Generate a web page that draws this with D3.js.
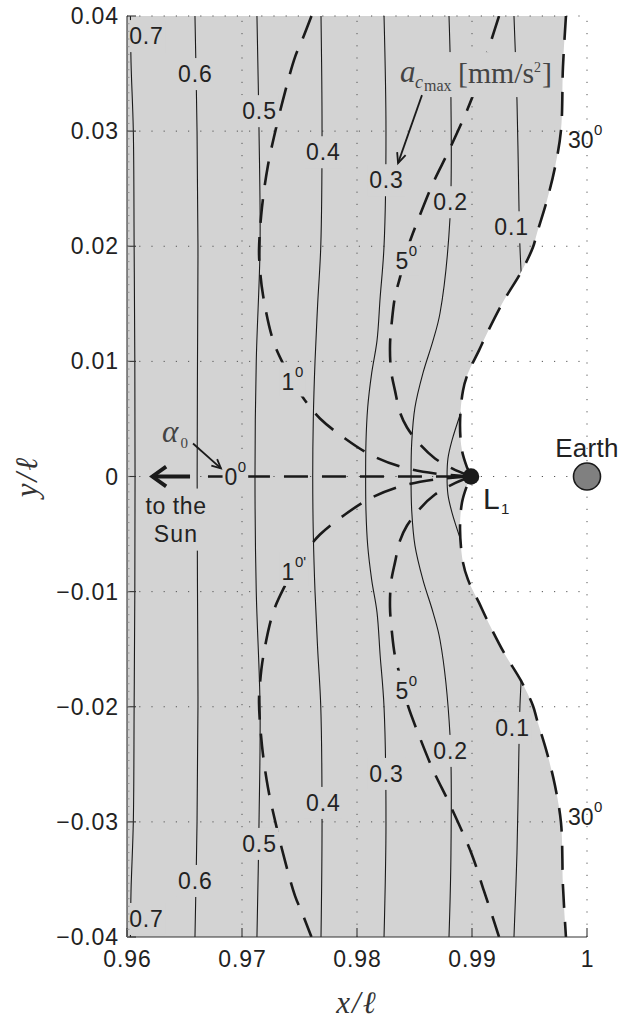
<!DOCTYPE html>
<html>
<head>
<meta charset="utf-8">
<script src="https://cdn.jsdelivr.net/npm/d3@7"></script>
<style>
body { margin: 0; background: #fff; }
text { font-family: "Liberation Sans", Arial, sans-serif; fill: #222; }
.serif { font-family: "Liberation Serif", "Times New Roman", serif; }
</style>
</head>
<body>
<svg width="624" height="1025"></svg>
<script>
// axis ticks
var xTicks = [0.96, 0.97, 0.98, 0.99, 1],
    xTickLabels = ["0.96", "0.97", "0.98", "0.99", "1"],
    yTicks = [-0.04, -0.03, -0.02, -0.01, 0, 0.01, 0.02, 0.03, 0.04],
    yTickLabels = ["\u22120.04", "\u22120.03", "\u22120.02", "\u22120.01", "0", "0.01", "0.02", "0.03", "0.04"];

// a_cmax contours [mm/s^2], points (x/l, y/l)
var accLevels = ["0.7", "0.6", "0.5", "0.4", "0.3", "0.2", "0.1"];
var acc07 = [[0.9603,0.04],[0.96035,0.036],[0.96055,0.03],[0.96062,0.02],[0.96068,0.01],[0.9607,0],[0.96068,-0.01],[0.96062,-0.02],[0.96055,-0.03],[0.96035,-0.036],[0.9603,-0.04]];
var acc06 = [[0.96591,0.04],[0.96609,0.03],[0.96617,0.02],[0.96613,0.01],[0.9661,0],[0.96613,-0.01],[0.96617,-0.02],[0.96609,-0.03],[0.96591,-0.04]];
var acc05 = [[0.9713,0.04],[0.97148,0.03],[0.97157,0.02],[0.97124,0.01],[0.97113,0],[0.97124,-0.01],[0.97157,-0.02],[0.97148,-0.03],[0.9713,-0.04]];
var acc04 = [[0.97687,0.04],[0.97696,0.03],[0.97685,0.02],[0.97658,0.015],[0.97635,0.01],[0.9762,0.005],[0.97615,0],[0.9762,-0.005],[0.97635,-0.01],[0.97658,-0.015],[0.97685,-0.02],[0.97696,-0.03],[0.97687,-0.04]];
var acc03 = [[0.98235,0.04],[0.98252,0.03],[0.98235,0.02],[0.98201,0.0155],[0.98174,0.0118],[0.98128,0.009],[0.98093,0.006],[0.98078,0.003],[0.98075,0],[0.98078,-0.003],[0.98093,-0.006],[0.98128,-0.009],[0.98174,-0.0118],[0.98201,-0.0155],[0.98235,-0.02],[0.98252,-0.03],[0.98235,-0.04]];
var acc02 = [[0.988,0.04],[0.98817,0.0327],[0.98809,0.0225],[0.98722,0.0142],[0.98661,0.0118],[0.98574,0.009],[0.98504,0.006],[0.98476,0.003],[0.9847,0],[0.98476,-0.003],[0.98504,-0.006],[0.98574,-0.009],[0.98661,-0.0118],[0.98722,-0.0142],[0.98809,-0.0225],[0.98817,-0.0327],[0.988,-0.04]];
var acc01Top = [[0.99365,0.04],[0.99391,0.0327],[0.99409,0.02313],[0.99417,0.01991],[0.9943,0.0172]];
var acc01Bottom = [[0.9943,-0.0172],[0.99417,-0.01991],[0.99409,-0.02313],[0.99391,-0.0327],[0.99365,-0.04]];
var acc01Inner = [[0.98905,0.0056],[0.98826,0.00313],[0.98791,0.00157],[0.98783,0],[0.98791,-0.00157],[0.98826,-0.00313],[0.98905,-0.0056]];
var accLabelTop = [[0.96165,0.03826],[0.96591,0.03496],[0.97148,0.03174],[0.97704,0.02817],[0.98252,0.02574],[0.98809,0.02383],[0.9934,0.02165]];
var accLabelBottom = [[0.96165,-0.03843],[0.96591,-0.03513],[0.97148,-0.03191],[0.97704,-0.02835],[0.98252,-0.02583],[0.98809,-0.02383],[0.99348,-0.02183]];

// alpha_0 contours (dashed)
var alpha0 = [[0.96704,0],[0.98991,0]];
var alpha1Top = [[0.97604,0.04],[0.9753,0.03809],[0.97461,0.03643],[0.97374,0.03339],[0.97296,0.03026],[0.97226,0.02704],[0.97174,0.02339],[0.97148,0.01965],[0.97157,0.01791],[0.97183,0.01574],[0.9727,0.01183],[0.97374,0.00948],[0.97461,0.00791],[0.97548,0.00661],[0.97678,0.00504],[0.97896,0.0033],[0.98113,0.00191],[0.98374,0.00087],[0.98678,0.00026],[0.98991,0]];
var alpha1Bottom = [[0.98991,0],[0.98678,-0.00026],[0.98374,-0.00087],[0.98113,-0.00191],[0.97896,-0.0033],[0.97678,-0.00504],[0.97548,-0.00661],[0.97461,-0.00791],[0.97374,-0.00948],[0.9727,-0.01183],[0.97183,-0.01574],[0.97157,-0.01791],[0.97148,-0.01965],[0.97174,-0.02339],[0.97226,-0.02704],[0.97296,-0.03026],[0.97374,-0.03339],[0.97461,-0.03643],[0.9753,-0.03809],[0.97604,-0.04]];
var alpha5Top = [[0.99235,0.04],[0.99174,0.03809],[0.99104,0.036],[0.99,0.03287],[0.98809,0.02852],[0.98661,0.02548],[0.9853,0.02226],[0.98443,0.01991],[0.98374,0.0173],[0.9833,0.01557],[0.98304,0.01357],[0.98287,0.01139],[0.98296,0.00922],[0.9833,0.00748],[0.98374,0.00557],[0.98435,0.00426],[0.98548,0.00278],[0.98678,0.00157],[0.98826,0.0007],[0.98991,0]];
var alpha5Bottom = [[0.98991,0],[0.98826,-0.0007],[0.98678,-0.00157],[0.98548,-0.00278],[0.98435,-0.00426],[0.98374,-0.00557],[0.9833,-0.00748],[0.98296,-0.00922],[0.98287,-0.01139],[0.98304,-0.01357],[0.9833,-0.01557],[0.98374,-0.0173],[0.98443,-0.01991],[0.9853,-0.02226],[0.98661,-0.02548],[0.98809,-0.02852],[0.99,-0.03287],[0.99104,-0.036],[0.99174,-0.03809],[0.99235,-0.04]];
var alpha30 = [[0.99817,0.04],[0.99791,0.03557],[0.99774,0.03009],[0.99722,0.02687],[0.99652,0.024],[0.99565,0.02113],[0.9953,0.01991],[0.99426,0.01774],[0.99278,0.0153],[0.9913,0.01243],[0.99061,0.01096],[0.98965,0.00896],[0.98922,0.00748],[0.98896,0.00461],[0.98913,0.00226],[0.98957,0.00078],[0.98991,0],[0.98957,-0.00078],[0.98913,-0.00226],[0.98896,-0.00461],[0.98922,-0.00748],[0.98965,-0.00896],[0.99061,-0.01096],[0.9913,-0.01243],[0.99278,-0.0153],[0.99426,-0.01774],[0.9953,-0.01991],[0.99565,-0.02113],[0.99652,-0.024],[0.99722,-0.02687],[0.99774,-0.03009],[0.99791,-0.03557],[0.99817,-0.04]];
var alphaLabels = [
    {main: "1", sup: "0", x: 0.974, y: 0.00817},
    {main: "1", sup: "0'", x: 0.974, y: -0.00826},
    {main: "5", sup: "0", x: 0.98391, y: 0.0187},
    {main: "5", sup: "0", x: 0.98391, y: -0.0186},
    {main: "0", sup: "0", x: 0.96904, y: 0},
    {main: "30", sup: "0", x: 0.99945, y: 0.0292},
    {main: "30", sup: "0", x: 0.99945, y: -0.0296}
];

var l1X = 0.98991, earthX = 1.0;

var svg = d3.select("svg"),
    margin = {top: 16, right: 37, bottom: 88, left: 127},
    width = 624 - margin.left - margin.right,
    height = 1025 - margin.top - margin.bottom;

var x = d3.scaleLinear().domain([0.96, 1]).range([margin.left, margin.left + width]),
    y = d3.scaleLinear().domain([-0.04, 0.04]).range([margin.top + height, margin.top]);

var line = d3.line()
    .curve(d3.curveCatmullRom.alpha(0.5))
    .x(function (d) { return x(d[0]); })
    .y(function (d) { return y(d[1]); });

var regionPath = line(alpha30) +
    "L" + x(0.96) + "," + y(-0.04) + "L" + x(0.96) + "," + y(0.04) + "Z";

var defs = svg.append("defs");
defs.append("clipPath").attr("id", "plotclip")
    .append("rect").attr("x", x(0.96)).attr("y", y(0.04))
    .attr("width", width).attr("height", height);
defs.append("clipPath").attr("id", "regionclip")
    .append("path").attr("d", regionPath);

var grey = "#d3d3d3",
    fs = 23, ls = "0.9px";

// feasible region
svg.append("path").attr("d", regionPath).attr("fill", grey);

// dotted grid
var grid = svg.append("g").attr("stroke", "#555").attr("stroke-width", 1)
    .attr("stroke-dasharray", "1.2 11");
grid.selectAll(".gx").data(xTicks.slice(1)).enter().append("line")
    .attr("x1", function (d) { return x(d); }).attr("x2", function (d) { return x(d); })
    .attr("y1", y(-0.04)).attr("y2", y(0.04));
grid.selectAll(".gy").data(yTicks.slice(1)).enter().append("line")
    .attr("y1", function (d) { return y(d); }).attr("y2", function (d) { return y(d); })
    .attr("x1", x(0.96)).attr("x2", x(1));

// solid a_cmax contours
var solid = svg.append("g").attr("clip-path", "url(#regionclip)")
    .attr("fill", "none").attr("stroke", "#1a1a1a").attr("stroke-width", 1.1);
[acc07, acc06, acc05, acc04, acc03, acc02, acc01Top, acc01Bottom, acc01Inner].forEach(function (c) {
    solid.append("path").attr("d", line(c));
});

// dashed alpha_0 contours
var dashed = svg.append("g").attr("clip-path", "url(#plotclip)")
    .attr("fill", "none").attr("stroke", "#1a1a1a").attr("stroke-width", 2.6)
    .attr("stroke-dasharray", "24 14");
[alpha0, alpha1Top, alpha1Bottom, alpha5Top, alpha5Bottom, alpha30].forEach(function (c) {
    dashed.append("path").attr("d", line(c));
});

// label with a background patch that breaks the line under it
function maskedText(px, py, str, bg, pad) {
    var g = svg.append("g");
    var r = g.append("rect").attr("fill", bg);
    var t = g.append("text").attr("x", px).attr("y", py).attr("dy", "0.35em")
        .attr("text-anchor", "middle").style("font-size", fs + "px")
        .style("letter-spacing", ls).text(str);
    var b = t.node().getBBox();
    r.attr("x", b.x - pad[0]).attr("y", b.y - pad[1])
        .attr("width", b.width + 2 * pad[0]).attr("height", b.height + 2 * pad[1]);
    return g;
}

accLevels.forEach(function (lev, i) {
    maskedText(x(accLabelTop[i][0]) + 0.5, y(accLabelTop[i][1]), lev, grey, [2, 3]);
    maskedText(x(accLabelBottom[i][0]) + 0.5, y(accLabelBottom[i][1]), lev, grey, [2, 3]);
});

alphaLabels.forEach(function (d) {
    var px = x(d.x), py = y(d.y);
    var inside = d.main !== "30";
    var g = svg.append("g");
    var r = g.append("rect").attr("fill", inside ? grey : "none");
    var t = g.append("text").attr("x", px).attr("y", py).attr("dy", "0.35em")
        .attr("text-anchor", "middle").style("font-size", fs + "px").text(d.main);
    var w = t.node().getComputedTextLength();
    g.append("text").attr("x", px + w / 2 + 0.5).attr("y", py - 5)
        .style("font-size", "15px").text(d.sup);
    var b = g.node().getBBox();
    r.attr("x", b.x - 2).attr("y", b.y - 1).attr("width", b.width + 4).attr("height", b.height + 2);
});

// arrows with open heads
function arrow(x1, y1, x2, y2, sw, len, ang) {
    var a = Math.atan2(y2 - y1, x2 - x1);
    var g = svg.append("g").attr("stroke", "#1a1a1a").attr("stroke-width", sw)
        .attr("fill", "none").attr("stroke-linecap", "butt");
    g.append("line").attr("x1", x1).attr("y1", y1).attr("x2", x2).attr("y2", y2);
    g.append("path").attr("stroke-linejoin", "miter")
        .attr("d", "M" + (x2 - len * Math.cos(a - ang)) + "," + (y2 - len * Math.sin(a - ang)) +
            "L" + x2 + "," + y2 +
            "L" + (x2 - len * Math.cos(a + ang)) + "," + (y2 - len * Math.sin(a + ang)));
}

// to the Sun
arrow(x(0.96548), y(0), x(0.9622), y(0), 3.8, 17, 0.62);
var sunText = svg.append("g");
var sr = sunText.append("rect").attr("fill", grey);
sunText.append("text").attr("x", x(0.96426)).attr("y", y(-0.00252)).attr("dy", "0.35em")
    .attr("text-anchor", "middle").style("font-size", fs + "px").style("letter-spacing", "0.6px").text("to the");
sunText.append("text").attr("x", x(0.96426)).attr("y", y(-0.00496)).attr("dy", "0.35em")
    .attr("text-anchor", "middle").style("font-size", fs + "px").style("letter-spacing", "1.2px").text("Sun");
var sb = sunText.node().getBBox();
sr.attr("x", sb.x).attr("y", sb.y - 4).attr("width", sb.width).attr("height", sb.height + 8);

// alpha_0 annotation
svg.append("text").attr("class", "serif").attr("x", x(0.96304)).attr("y", y(0.00296))
    .style("font-size", "31px").style("font-style", "italic").style("fill", "#444").text("\u03b1");
svg.append("text").attr("class", "serif").attr("x", x(0.96465)).attr("y", y(0.00313) + 8)
    .style("font-size", "15px").style("fill", "#444").text("0");
arrow(x(0.96574), y(0.00287), x(0.96817), y(0.0007), 1.8, 10, 0.45);

// a_cmax annotation
var ax = x(0.98374), ay = y(0.03426);
var ann = svg.append("g");
ann.append("rect").attr("fill", grey).attr("x", ax - 4).attr("y", ay - 30)
    .attr("width", 160).attr("height", 45);
ann.append("text").attr("class", "serif").attr("x", ax).attr("y", ay)
    .style("font-size", "31px").style("font-style", "italic").style("fill", "#444").text("a");
ann.append("text").attr("class", "serif").attr("x", ax + 15).attr("y", ay + 6)
    .style("font-size", "18px").style("font-style", "italic").style("fill", "#444").text("c");
ann.append("text").attr("class", "serif").attr("x", ax + 24).attr("y", ay + 9)
    .style("font-size", "16px").style("fill", "#444").text("max");
ann.append("text").attr("class", "serif").attr("x", ax + 58).attr("y", ay + 1)
    .attr("textLength", 76).attr("lengthAdjust", "spacingAndGlyphs")
    .style("font-size", "30px").style("fill", "#444").text("[mm/s");
ann.append("text").attr("class", "serif").attr("x", ax + 134).attr("y", ay - 10)
    .style("font-size", "14px").style("fill", "#444").text("2");
ann.append("text").attr("class", "serif").attr("x", ax + 142).attr("y", ay + 1)
    .style("font-size", "30px").style("fill", "#444").text("]");
arrow(x(0.98565), y(0.03313), x(0.98357), y(0.02722), 1.8, 11, 0.42);

// L1 and Earth
svg.append("circle").attr("cx", x(l1X)).attr("cy", y(0)).attr("r", 8.3).attr("fill", "#1a1a1a");
svg.append("text").attr("x", x(0.99165) - 8).attr("y", y(0) + 32)
    .style("font-size", "30px").text("L");
svg.append("text").attr("x", x(0.99165) + 10).attr("y", y(0) + 37)
    .style("font-size", "15px").text("1");
svg.append("circle").attr("cx", x(earthX)).attr("cy", y(0)).attr("r", 13.5)
    .attr("fill", "#808080").attr("stroke", "#1a1a1a").attr("stroke-width", 1.6);
svg.append("text").attr("x", x(earthX)).attr("y", y(0.00252)).attr("dy", "0.35em")
    .attr("text-anchor", "middle").style("font-size", "26px").style("letter-spacing", "0.3px").text("Earth");

// axes: left and bottom lines, inward ticks
var axes = svg.append("g").attr("stroke", "#333").attr("stroke-width", 1.1);
axes.append("line").attr("x1", x(0.96)).attr("x2", x(0.96)).attr("y1", y(-0.04)).attr("y2", y(0.04));
axes.append("line").attr("x1", x(0.96)).attr("x2", x(1)).attr("y1", y(-0.04)).attr("y2", y(-0.04));
axes.selectAll(".tx").data(xTicks).enter().append("line")
    .attr("x1", function (d) { return x(d); }).attr("x2", function (d) { return x(d); })
    .attr("y1", y(-0.04)).attr("y2", y(-0.04) - 9);
axes.selectAll(".ty").data(yTicks).enter().append("line")
    .attr("y1", function (d) { return y(d); }).attr("y2", function (d) { return y(d); })
    .attr("x1", x(0.96)).attr("x2", x(0.96) + 9);
svg.append("g").attr("stroke", "#888").attr("stroke-width", 0.8)
    .selectAll("line").data(d3.range(0, 120)).enter().append("line")
    .attr("y1", function (d) { return y(-0.04 + d * 0.08 / 120); })
    .attr("y2", function (d) { return y(-0.04 + d * 0.08 / 120); })
    .attr("x1", x(0.96)).attr("x2", x(0.96) + 2.5);

svg.selectAll(".xl").data(xTicks).enter().append("text")
    .attr("x", function (d) { return x(d) + 0.5; }).attr("y", y(-0.04) + 30)
    .attr("text-anchor", "middle").style("font-size", fs + "px").style("letter-spacing", ls)
    .text(function (d, i) { return xTickLabels[i]; });
svg.selectAll(".yl").data(yTicks).enter().append("text")
    .attr("x", x(0.96) - 8).attr("y", function (d) { return y(d); }).attr("dy", "0.35em")
    .attr("text-anchor", "end").style("font-size", fs + "px").style("letter-spacing", ls)
    .text(function (d, i) { return yTickLabels[i]; });

// axis titles
svg.append("text").attr("class", "serif").attr("x", x(0.98)).attr("y", y(-0.04) + 76)
    .attr("text-anchor", "middle").style("font-size", "31px").style("font-style", "italic")
    .style("letter-spacing", "2px").style("fill", "#333").text("x/\u2113");
svg.append("text").attr("class", "serif")
    .attr("transform", "translate(37," + y(0) + ") rotate(-90)")
    .attr("text-anchor", "middle").style("font-size", "31px").style("font-style", "italic")
    .style("letter-spacing", "2px").style("fill", "#333").text("y/\u2113");
</script>
</body>
</html>
